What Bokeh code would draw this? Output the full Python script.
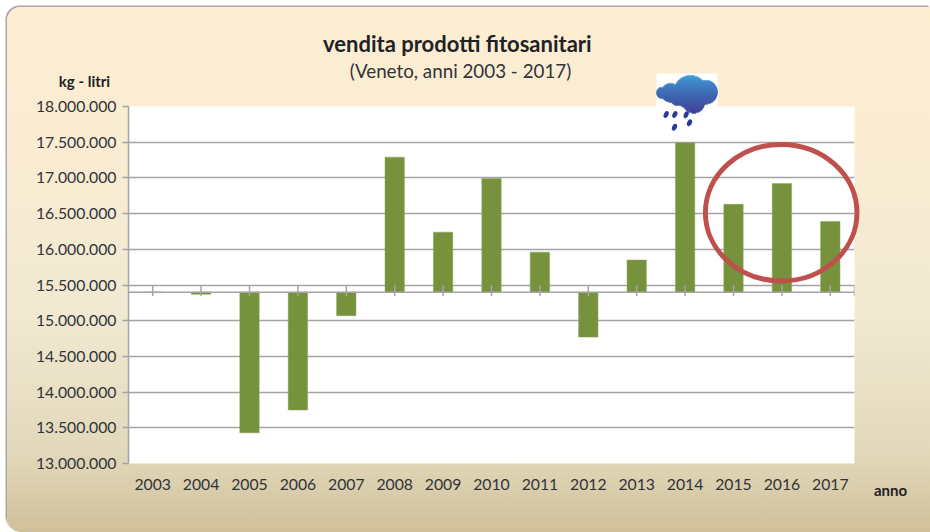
import math
from bokeh.core.properties import value
from bokeh.embed import file_html
from bokeh.layouts import column
from bokeh.models import FixedTicker, Range1d
from bokeh.plotting import figure
from bokeh.resources import INLINE

years = [2003, 2004, 2005, 2006, 2007, 2008, 2009, 2010, 2011, 2012, 2013, 2014, 2015, 2016, 2017]
sales = [15400000, 15370000, 13430000, 13750000, 15070000, 17290000, 16240000, 16990000,
         15960000, 14770000, 15850000, 17490000, 16630000, 16920000, 16390000]
y_ticks = [13000000, 13500000, 14000000, 14500000, 15000000, 15500000, 16000000, 16500000,
           17000000, 17500000, 18000000]
y_labels = ["13.000.000", "13.500.000", "14.000.000", "14.500.000", "15.000.000", "15.500.000",
            "16.000.000", "16.500.000", "17.000.000", "17.500.000", "18.000.000"]
baseline = 15400000

FONT = "Lato"
GRAY = "#a4a4a4"
TEXT = "#30343a"
OFF = 7  # offset of the panel on the page
W, H = 923, 525

p = figure(width=W, height=H, output_backend="svg", toolbar_location=None,
           x_range=Range1d(2002.5, 2017.5), y_range=Range1d(13e6, 18e6),
           min_border_left=121, min_border_right=76, min_border_top=99, min_border_bottom=69,
           background_fill_color="white", border_fill_alpha=0, outline_line_alpha=0,
           frame_align=False)
p.styles = {
    "margin-left": f"{OFF}px",
    "margin-top": f"{OFF}px",
    "background": "linear-gradient(180deg,#fdeed2 0%,#f9ecd2 30%,#f1e9d2 58%,#e2d8ba 85%,#d0c09a 100%)",
    "border-radius": "14px 0 0 14px",
    "box-shadow": "-1.5px -1.5px 0 #a8a8a8",
}

p.xgrid.visible = False
p.ygrid.ticker = FixedTicker(ticks=y_ticks)
p.ygrid.grid_line_color = GRAY
p.ygrid.grid_line_width = 1.5

p.yaxis.ticker = FixedTicker(ticks=y_ticks)
p.yaxis.major_label_overrides = dict(zip(y_ticks, y_labels))
p.yaxis.axis_line_color = GRAY
p.yaxis.axis_line_width = 1.5
p.yaxis.major_tick_line_color = GRAY
p.yaxis.major_tick_line_width = 1.5
p.yaxis.major_tick_out = 6
p.yaxis.major_tick_in = 0
p.yaxis.minor_tick_line_color = None
p.yaxis.major_label_standoff = 6
p.yaxis.major_label_text_font = FONT
p.yaxis.major_label_text_font_size = "15.75px"
p.yaxis.major_label_text_color = TEXT

p.xaxis.ticker = FixedTicker(ticks=years)
p.xaxis.major_label_overrides = {y: str(y) for y in years}
p.xaxis.axis_line_color = None
p.xaxis.major_tick_line_color = None
p.xaxis.minor_tick_line_color = None
p.xaxis.major_label_standoff = 9
p.xaxis.major_label_text_font = FONT
p.xaxis.major_label_text_font_size = "15.75px"
p.xaxis.major_label_text_color = TEXT

p.vbar(x=years, top=sales, bottom=baseline, width=0.4, fill_color="#76923c", line_color="#8aa356", line_width=0.5)

tick_x = years + [2017.5]
p.line([2002.5, 2017.5], [baseline, baseline], line_color=GRAY, line_width=1.5)
p.segment(x0=tick_x, x1=tick_x, y0=[15500000] * len(tick_x), y1=[15345000] * len(tick_x),
          line_color=GRAY, line_width=1.5)

# Transparent layer on top of the chart, in page pixels, for what sits outside the plot frame.
o = figure(width=W, height=H, output_backend="svg", toolbar_location=None,
           x_range=Range1d(OFF, OFF + W), y_range=Range1d(OFF + H, OFF),
           x_axis_type=None, y_axis_type=None, min_border=0,
           background_fill_alpha=0, border_fill_alpha=0, outline_line_alpha=0,
           frame_align=False)
o.grid.visible = False
o.styles = {"position": "absolute", "left": f"{OFF}px", "top": f"{OFF}px", "pointer-events": "none"}

def label(text, x, y, size, bold=False, color=TEXT):
    o.text(x=[x], y=[y], text=[text], text_font=value(FONT), text_font_size=value(size),
           text_font_style="bold" if bold else "normal", text_color=color,
           text_align="center", text_baseline="middle")

label("vendita  prodotti fitosanitari", 459.5, 43, "22px", True, "#1f2226")
label("(Veneto, anni 2003 - 2017)", 460, 70, "18.8px")
label("kg - litri", 84, 80, "15px", True, "#1f2226")
label("anno", 890, 489, "15px", True, "#1f2226")

o.quad(left=[656], right=[717], top=[73], bottom=[131], fill_color="white", fill_alpha=1, line_alpha=0)

z = lambda a, off: off + a / 3.0
lobes = [(210, 95, 50), (150, 97, 28), (125, 97, 17), (255, 95, 36), (220, 125, 33), (170, 115, 20)]
lobes = [(z(a, 620), z(b, 60), r / 3.0) for a, b, r in lobes]
top_c, bot_c = (38, 155, 218), (36, 44, 140)
ql, qr, qt, qb, qc = [], [], [], [], []
for row in range(75, 113):
    yc = row + 0.5
    spans = []
    for cx, cy, r in lobes:
        if abs(yc - cy) < r:
            h = math.sqrt(r * r - (yc - cy) ** 2)
            spans.append((cx - h, cx + h))
    spans.sort()
    merged = []
    for a, b in spans:
        if merged and a <= merged[-1][1]:
            merged[-1][1] = max(b, merged[-1][1])
        else:
            merged.append([a, b])
    t = ((yc - 75) / 37.0) ** 0.7
    col = "#%02x%02x%02x" % tuple(round(c0 + (c1 - c0) * t) for c0, c1 in zip(top_c, bot_c))
    for a, b in merged:
        ql.append(a); qr.append(b); qt.append(row - 0.1); qb.append(row + 1.1); qc.append(col)
o.quad(left=ql, right=qr, top=qt, bottom=qb, fill_color=qc, fill_alpha=1, line_color=qc, line_alpha=1, line_width=0.3)

drops = [(137, 162), (163, 162), (197, 163), (162, 200), (207, 187)]
o.ellipse(x=[z(a, 620) for a, b in drops], y=[z(b, 60) for a, b in drops], width=4.6, height=7.2,
          angle=-0.45, fill_color="#2a3a96", fill_alpha=1, line_alpha=0)

o.ellipse(x=[780.7], y=[212.2], width=151.6, height=136.6, fill_alpha=0,
          line_color="#c0504d", line_alpha=1, line_width=5)

open("out.html", "w").write(file_html(column(p, o), INLINE))
